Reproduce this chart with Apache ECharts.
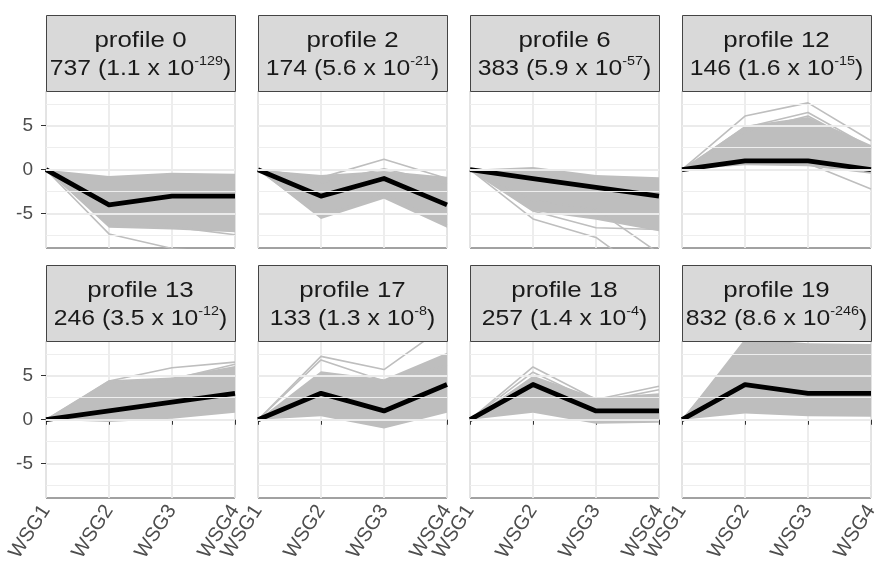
<!DOCTYPE html>
<html><head><meta charset="utf-8">
<script src="https://cdn.jsdelivr.net/npm/echarts@6/dist/echarts.min.js"></script>
<style>html,body{margin:0;padding:0;background:#fff}#c{width:882px;height:573px}</style>
</head><body><div id="c"></div>
<script>
// ---- data ----
const categories = ['WSG1', 'WSG2', 'WSG3', 'WSG4'];
const profileNames = ['profile 0', 'profile 2', 'profile 6', 'profile 12', 'profile 13', 'profile 17', 'profile 18', 'profile 19'];
const geneCounts = [737, 174, 383, 146, 246, 133, 257, 832];
const pMantissa = ['1.1', '5.6', '5.9', '1.6', '3.5', '1.3', '1.4', '8.6'];
const pExponent = ['-129', '-21', '-57', '-15', '-12', '-8', '-4', '-246'];
const profileValues = [
  [0, -4, -3, -3], [0, -3, -1, -4], [0, -1, -2, -3], [0, 1, 1, 0],
  [0, 1, 2, 3], [0, 3, 1, 4], [0, 4, 1, 1], [0, 4, 3, 3]
];
const bandUpper = [
  [0, -0.7, -0.35, -0.45], [0, -0.6, -0.15, -0.8], [0, 0.3, -0.6, -0.85], [0, 5.0, 6.0, 2.8],
  [0, 4.5, 4.8, 6.1], [0, 5.5, 4.6, 7.6], [0, 5.0, 2.5, 3.0], [0, 9.2, 8.7, 8.6]
];
const bandLower = [
  [0, -6.6, -6.8, -7.1], [0, -5.6, -3.3, -6.6], [0, -4.7, -5.7, -7.0], [0, 0.5, 0.4, -0.45],
  [0, -0.25, 0.1, 0.8], [0, 0.4, -1.0, 0.8], [0, 0.8, -0.45, -0.35], [0, 0.7, 0.4, 0.35]
];
const memberLines = [
  [[0, -7.3, -8.95, -9.6], [0, -6.2, -6.5, -7.4]],
  [[0, -0.9, 1.2, -1.0], [0, -1.5, 0.1, -1.6], [0, -5.3, -2.7, -6.3]],
  [[0, -5.6, -7.7, -12.9], [0, -4.7, -6.6, -6.8], [0, -3.5, -4.5, -9.5]],
  [[0, 6.1, 7.6, 3.3], [0, 4.8, 6.5, 2.5], [0, 4.3, 6.1, 2.3], [0, 1.0, 0.7, -2.2]],
  [[0, 4.4, 5.9, 6.55], [0, 4.3, 4.6, 6.3]],
  [[0, 7.2, 5.7, 10.8], [0, 6.8, 4.4, 6.2]],
  [[0, 6.0, 2.3, 3.8], [0, 5.4, 2.0, 3.4]],
  [[0, 8.6, 8.2, 8.5]]
];
const yLabelValues = [-5, 0, 5];
const yMinorValues = [-7.5, -2.5, 2.5, 7.5];
const yMin = -8.9, yMax = 8.95;

// ---- layout ----
const colLeft = [46, 258, 470, 682];
const panelW = 189, panelH = 157, stripH = 76;
const rowTop = [91, 341];
const FONT = 'Liberation Sans';

const grids = [], xAxes = [], yAxes = [], series = [], graphics = [];
profileNames.forEach((name, i) => {
  const col = i % 4, row = Math.floor(i / 4);
  grids.push({left: colLeft[col], top: rowTop[row], width: panelW, height: panelH,
    show: true, borderColor: '#444444', borderWidth: 1, backgroundColor: 'transparent', containLabel: false});
  xAxes.push({type: 'category', gridIndex: i, data: categories, boundaryGap: false,
    axisLine: {show: false},
    axisTick: {show: row === 1, length: 5, lineStyle: {color: '#333333', width: 1}},
    axisLabel: {show: row === 1, interval: 0, rotate: 57, fontSize: 20, color: '#4D4D4D', margin: 9, fontFamily: FONT},
    splitLine: {show: true, lineStyle: {color: '#EBEBEB', width: 1.8}}});
  yAxes.push({type: 'value', gridIndex: i, min: yMin, max: yMax,
    axisLine: {show: false},
    axisTick: {show: col === 0, customValues: yLabelValues, length: 5, lineStyle: {color: '#333333', width: 1}},
    axisLabel: {show: col === 0, customValues: yLabelValues, fontSize: 19, color: '#4D4D4D', margin: 13, fontFamily: FONT},
    splitLine: {show: false}});
  const gridLines = yLabelValues.map(v => ({yAxis: v, lineStyle: {color: '#EBEBEB', width: 1.8, type: 'solid'}}))
    .concat(yMinorValues.map(v => ({yAxis: v, lineStyle: {color: '#EEEEEE', width: 1, type: 'solid'}})));
  series.push({type: 'line', xAxisIndex: i, yAxisIndex: i, data: bandLower[i], stack: 'band' + i, stackStrategy: 'all',
    symbol: 'none', lineStyle: {opacity: 0}, z: 1, silent: true,
    markLine: {silent: true, symbol: 'none', label: {show: false}, animation: false, data: gridLines}});
  series.push({type: 'line', xAxisIndex: i, yAxisIndex: i,
    data: bandUpper[i].map((u, k) => u - bandLower[i][k]), stack: 'band' + i, stackStrategy: 'all',
    symbol: 'none', lineStyle: {opacity: 0}, areaStyle: {color: '#BEBEBE', opacity: 1}, z: 2, silent: true});
  memberLines[i].forEach(vals => {
    series.push({type: 'line', xAxisIndex: i, yAxisIndex: i, data: vals, symbol: 'none',
      lineStyle: {color: '#BEBEBE', width: 1.6}, z: 3, silent: true});
  });
  series.push({type: 'line', xAxisIndex: i, yAxisIndex: i, data: profileValues[i], symbol: 'none',
    lineStyle: {color: '#000000', width: 4.8, join: 'round'}, z: 4, silent: true});

  const sTop = rowTop[row] - stripH;
  graphics.push({type: 'rect', silent: true, z: 10,
    shape: {x: colLeft[col] + 0.5, y: sTop + 0.5, width: panelW, height: stripH},
    style: {fill: '#D9D9D9', stroke: '#444444', lineWidth: 1}});
  graphics.push({type: 'text', silent: true, z: 11,
    x: colLeft[col] + panelW / 2, y: sTop + 40, scaleX: 1.15,
    style: {
      text: '{t|' + name + '}\n{n|' + geneCounts[i] + ' (' + pMantissa[i] + ' x 10}{s|' + pExponent[i] + '}{n|)}',
      align: 'center', verticalAlign: 'middle', fill: '#1A1A1A',
      rich: {
        t: {fontSize: 22.5, lineHeight: 29, fontFamily: FONT, fill: '#1A1A1A'},
        n: {fontSize: 21.5, lineHeight: 29, fontFamily: FONT, fill: '#1A1A1A'},
        s: {fontSize: 12.5, lineHeight: 14, fontFamily: FONT, fill: '#1A1A1A', verticalAlign: 'top'}
      }
    }});
});

const chart = echarts.init(document.getElementById('c'), null, {renderer: 'canvas'});
chart.setOption({
  animation: false,
  backgroundColor: '#ffffff',
  textStyle: {fontFamily: FONT},
  grid: grids, xAxis: xAxes, yAxis: yAxes, series: series, graphic: graphics
});
</script></body></html>
